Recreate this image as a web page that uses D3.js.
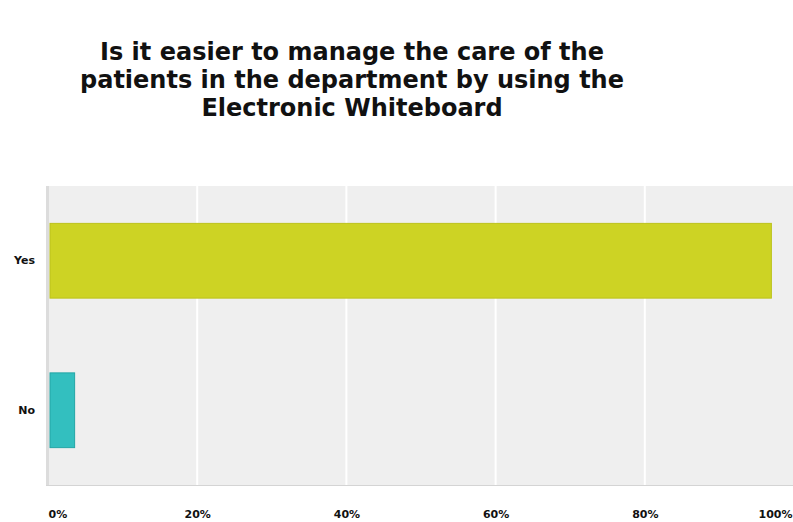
<!DOCTYPE html>
<html>
<head>
<meta charset="utf-8">
<script src="https://cdn.jsdelivr.net/npm/d3@7"></script>
<style>
  body { margin: 0; background: #fff; }
  svg { display: block; font-family: "DejaVu Sans", Verdana, sans-serif; }
</style>
</head>
<body>
<div id="chart"></div>
<script>
// data
const categories = ["Yes", "No"];
const percents = [96.7, 3.3];
const tickValues = [0, 20, 40, 60, 80, 100];
const titleLines = [
    "Is it easier to manage the care of the",
    "patients in the department by using the",
    "Electronic Whiteboard"
];
const barColors = ["#cdd324", "#33bfbf"];
const barStrokes = ["#bcc21c", "#24a6a6"];

const width = 793, height = 522;
const margin = { top: 186, right: -1, bottom: 37, left: 48 };
const innerW = width - margin.left - margin.right;
const innerH = height - margin.top - margin.bottom;

const svg = d3.select("#chart")
    .append("svg")
    .attr("width", width)
    .attr("height", height);

// title
svg.append("g")
    .selectAll("text")
    .data(titleLines)
    .enter()
    .append("text")
    .attr("x", 352)
    .attr("y", (d, i) => 60 + i * 28)
    .attr("text-anchor", "middle")
    .style("font-size", "24px")
    .style("font-weight", "bold")
    .style("fill", "#111")
    .text(d => d);

const g = svg.append("g")
    .attr("transform", `translate(${margin.left},${margin.top})`);

const x = d3.scaleLinear().domain([0, 100]).range([0, innerW]);
const y = d3.scaleBand().domain(categories).range([0, innerH])
    .paddingInner(0.5).paddingOuter(0.25);

// plot background
g.append("rect")
    .attr("x", -2)
    .attr("y", 0)
    .attr("width", innerW + 2)
    .attr("height", innerH)
    .attr("fill", "#efefef");

// gridlines
g.append("g")
    .selectAll("line")
    .data(tickValues.slice(1))
    .enter()
    .append("line")
    .attr("x1", d => x(d))
    .attr("x2", d => x(d))
    .attr("y1", 0)
    .attr("y2", innerH)
    .attr("stroke", "#fff")
    .attr("stroke-width", 2);

// left axis strip and bottom border
g.append("rect")
    .attr("x", -2)
    .attr("y", 0)
    .attr("width", 3)
    .attr("height", innerH)
    .attr("fill", "#dcdcdc");
g.append("line")
    .attr("x1", -2)
    .attr("x2", innerW)
    .attr("y1", innerH + 0.5)
    .attr("y2", innerH + 0.5)
    .attr("stroke", "#d4d4d4");

// bars
g.selectAll(".bar")
    .data(categories)
    .enter()
    .append("rect")
    .attr("class", "bar")
    .attr("x", x(0) + 2)
    .attr("y", d => y(d))
    .attr("height", y.bandwidth())
    .attr("width", (d, i) => x(percents[i]) - x(0))
    .attr("fill", (d, i) => barColors[i])
    .attr("stroke", (d, i) => barStrokes[i])
    .attr("stroke-width", 1);

// y axis labels
const yAxis = g.append("g")
    .call(d3.axisLeft(y).tickSize(0).tickPadding(13));
yAxis.select(".domain").remove();
yAxis.selectAll("text")
    .style("font-size", "11px")
    .style("font-weight", "bold")
    .style("font-family", "'DejaVu Sans', Verdana, sans-serif")
    .style("fill", "#111");

// x axis labels
const xAxis = g.append("g")
    .attr("transform", `translate(0,${innerH})`)
    .call(d3.axisBottom(x).tickValues(tickValues).tickSize(0).tickPadding(25)
        .tickFormat(d => d + "%"));
xAxis.select(".domain").remove();
xAxis.selectAll("text")
    .style("font-size", "11px")
    .style("font-weight", "bold")
    .style("font-family", "'DejaVu Sans', Verdana, sans-serif")
    .style("fill", "#111")
    .attr("text-anchor", d => d === 0 ? "start" : "middle")
    .attr("dx", d => d === 100 ? -19 : 0);
</script>
</body>
</html>
